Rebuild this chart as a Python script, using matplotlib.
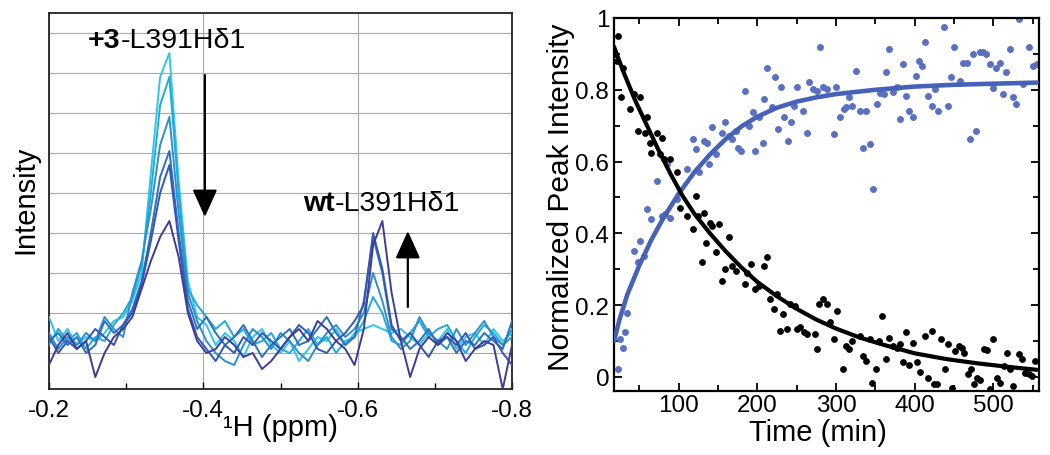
import numpy as np
import matplotlib
matplotlib.use('Agg')
import matplotlib.pyplot as plt
from matplotlib.ticker import MultipleLocator, FuncFormatter

plt.rcParams['font.family'] = ['Liberation Sans', 'DejaVu Sans']
plt.rcParams['axes.unicode_minus'] = False

# ---------------- Left panel: 1H spectra ----------------
ppm = np.linspace(-0.2, -0.8, 51)

spec1 = [0.9, 0.3, 0.6, 0.2, 0.4, 0.3, 0.5, 0.8, 0.9, 1.3, 2.0, 4.5, 6.9, 7.5, 4.3, 1.8, 0.9, 0.7, 0.2, 0.5,
         0.3, -0.1, 0.4, 0.6, 0.2, 0.0, 0.3, -0.2, 0.1, 0.4, 0.3, 0.6, 0.2, 0.5, 0.6, 0.7, 0.6, 0.5, 0.6, 0.4,
         0.2, 0.5, 0.3, 0.6, 0.1, 0.4, 0.5, 0.2, 0.6, 0.3, 0.5]
spec2 = [0.2, 0.6, 0.3, 0.5, 0.1, 0.4, 0.3, 0.7, 1.0, 1.4, 2.2, 4.0, 6.2, 6.9, 4.0, 1.6, 1.2, 0.9, 0.6, 0.8,
         0.4, 0.6, 0.2, 0.3, 0.5, 0.1, 0.0, 0.3, 0.6, 0.2, 0.4, 0.0, 0.3, 0.4, 0.8, 1.4, 1.0, 0.3, 0.2, 0.5,
         0.8, 0.4, 0.6, 0.7, 0.3, 0.0, 0.4, 0.7, 0.5, 0.2, 0.6]
spec3 = [0.5, 0.1, 0.4, 0.2, 0.5, 0.3, 0.9, 0.6, 0.4, 1.5, 2.3, 3.6, 5.2, 5.9, 3.5, 1.5, 0.8, 0.3, 0.0, -0.2,
         -0.3, 0.2, 0.6, 0.4, 0.1, 0.5, 0.3, 0.0, -0.2, 0.2, 0.5, 0.7, 0.4, 0.6, 1.0, 2.0, 1.3, 0.4, 0.1, 0.3,
         0.9, 0.5, 0.3, 0.1, 0.6, 0.2, 0.5, 0.8, 0.4, 0.2, 0.4]
spec4 = [0.3, 0.5, 0.2, 0.4, 0.0, 0.2, 0.8, 0.5, 0.7, 1.1, 1.8, 3.0, 4.4, 5.05, 3.0, 1.3, 0.6, 0.9, 0.5, 0.2,
         0.4, 0.7, 0.3, -0.1, 0.2, 0.4, 0.6, 0.2, 0.3, 0.6, 0.9, 0.5, 0.2, 0.4, 1.3, 2.9, 2.0, 0.6, 0.4, 0.1,
         0.3, 0.6, 0.2, 0.4, 0.0, 0.3, 0.2, 0.5, 0.3, 0.1, 0.8]
spec5 = [0.4, 0.0, 0.3, 0.1, 0.3, 0.6, 0.4, 0.2, 0.7, 1.0, 1.7, 2.8, 4.0, 4.7, 2.8, 1.1, 0.4, 0.1, -0.2, 0.2,
         0.0, 0.4, 0.2, 0.5, 0.3, 0.1, 0.4, 0.7, 0.5, 0.1, 0.0, 0.3, 0.5, 0.8, 1.2, 3.0, 2.1, 0.7, 0.3, 0.5,
         0.2, -0.1, 0.3, 0.4, 0.2, 0.5, 0.1, 0.2, 0.4, 0.0, -0.3]
spec6 = [-0.3, 0.2, 0.5, 0.1, 0.3, -0.6, 0.0, 0.4, 0.6, 0.9, 1.6, 2.3, 2.9, 3.3, 2.4, 1.0, 0.3, 0.0, 0.1, 0.4,
         0.2, -0.1, 0.0, -0.4, -0.2, 0.1, 0.4, 0.6, 0.3, 0.8, 0.6, 0.3, 0.1, -0.3, 0.6, 2.7, 3.3, 1.5, 0.3, -0.6,
         0.1, 0.4, 0.2, 0.5, 0.3, -0.2, 0.1, 0.3, 0.2, -0.9, 0.2]
spectra = [spec1, spec2, spec3, spec4, spec5, spec6]
spec_colors = ['#2cc6ee', '#1eaadf', '#2b90cf', '#2c70c0', '#3556b2', '#3e3c98']

ppm_ticks = [-0.2, -0.4, -0.6, -0.8]
ppm_ticklabels = ['-0.2', '-0.4', '-0.6', '-0.8']

# ---------------- Right panel: kinetics ----------------
black_t = [22.5, 19.6, 21.7, 30, 27, 38.6, 43, 51, 48, 60, 58, 64, 64.5, 72.5, 79, 77, 82, 89, 98, 102,
           111, 122, 119, 125, 132, 130, 135, 140, 142, 151, 147, 155, 159, 164, 168, 173, 185, 187, 192, 197,
           202, 208, 213, 216, 221, 225, 229, 233, 238, 242, 248, 250, 254, 259, 263, 273, 276, 279, 283, 288,
           292, 297, 301, 309, 313, 317, 321, 331, 335, 338, 343, 346, 351, 355, 359, 364, 368, 373, 377, 381,
           385, 389, 393, 398, 403, 407, 413, 417, 422, 425, 429, 433, 439, 443, 447, 451, 456, 460, 463, 468,
           471, 475, 479, 483, 488, 492, 496, 500, 504, 509, 513, 517, 521, 525, 532, 536, 540, 545, 549, 553]
black_v = [0.95, 0.90, 0.88, 0.862, 0.78, 0.746, 0.788, 0.78, 0.686, 0.723, 0.681, 0.653, 0.625, 0.681, 0.667,
           0.62, 0.607, 0.607, 0.57, 0.472, 0.449, 0.505, 0.412, 0.449, 0.458, 0.319, 0.374, 0.43, 0.421, 0.426,
           0.347, 0.268, 0.30, 0.389, 0.31, 0.296, 0.258, 0.291, 0.314, 0.244, 0.254, 0.31, 0.333, 0.217, 0.189,
           0.23, 0.128, 0.175, 0.133, 0.203, 0.198, 0.133, 0.138, 0.124, 0.119, 0.119, 0.079, 0.204, 0.217, 0.203,
           0.153, 0.107, 0.184, 0.023, 0.086, 0.077, 0.10, 0.114, 0.059, 0.045, 0.105, -0.016, 0.021, 0.10, 0.17,
           0.051, 0.11, 0.086, 0.082, 0.091, 0.042, 0.124, 0.033, 0.096, 0.042, 0.014, 0.114, -0.002, 0.128, -0.02,
           -0.02, 0.105, 0.021, 0.091, -0.03, 0.072, 0.086, 0.082, 0.068, 0.007, 0.021, -0.02, -0.002, -0.007, 0.077,
           0.075, -0.033, 0.107, -0.002, -0.016, 0.031, 0.068, 0.023, -0.025, 0.063, 0.049, 0.012, 0.007, 0.003, 0.045]

blue_t = [22.5, 26, 30, 32, 35, 43, 49, 51, 56, 60, 65, 72.5, 79, 83, 89, 85, 98, 111, 118, 122,
          126, 132, 136, 139, 143, 147, 155, 159, 164, 168, 173, 176, 179, 185, 189, 194, 197, 202, 207, 209,
          213, 219, 222, 226, 230, 234, 239, 243, 247, 250, 258, 263, 266, 271, 276, 280, 284, 288, 297, 300,
          305, 310, 313, 317, 321, 326, 330, 335, 338, 343, 347, 352, 356, 361, 364, 368, 373, 377, 381, 385,
          389, 393, 398, 402, 405, 409, 413, 417, 422, 426, 430, 437, 442, 446, 450, 458, 462, 466, 470, 474,
          478, 483, 487, 491, 496, 500, 503, 508, 512, 516, 521, 525, 529, 533, 538, 545, 550, 555]
blue_v = [0.021, 0.105, 0.082, 0.124, 0.179, 0.351, 0.319, 0.379, 0.337, 0.467, 0.44, 0.546, 0.449, 0.454, 0.444,
          0.593, 0.495, 0.579, 0.663, 0.635, 0.57, 0.658, 0.653, 0.593, 0.695, 0.621, 0.681, 0.709, 0.672, 0.663,
          0.686, 0.639, 0.63, 0.797, 0.70, 0.737, 0.63, 0.723, 0.653, 0.774, 0.862, 0.751, 0.835, 0.69, 0.807,
          0.723, 0.658, 0.709, 0.756, 0.807, 0.742, 0.681, 0.821, 0.802, 0.797, 0.918, 0.807, 0.802, 0.677, 0.807,
          0.723, 0.746, 0.751, 0.779, 0.756, 0.853, 0.742, 0.639, 0.742, 0.649, 0.523, 0.76, 0.791, 0.788, 0.849,
          0.914, 0.793, 0.809, 0.718, 0.872, 0.783, 0.742, 0.723, 0.839, 0.881, 0.867, 0.932, 0.783, 0.756, 0.802,
          0.742, 0.974, 0.756, 0.835, 0.918, 0.825, 0.876, 0.876, 0.663, 0.90, 0.686, 0.904, 0.904, 0.90, 0.872,
          0.804, 0.862, 0.876, 0.788, 0.849, 0.914, 0.779, 0.76, 0.997, 0.816, 0.918, 0.867, 0.872]

decay_fit_t = [18, 30, 45, 60, 75, 90, 105, 120, 140, 160, 180, 200, 225, 250, 275, 300, 330, 360, 400, 440, 480, 520, 555]
decay_fit_v = [0.92, 0.85, 0.77, 0.70, 0.63, 0.565, 0.505, 0.455, 0.40, 0.35, 0.305, 0.265, 0.225, 0.19, 0.16,
               0.135, 0.11, 0.09, 0.066, 0.05, 0.038, 0.028, 0.02]
rise_fit_t = [18, 25, 35, 50, 65, 80, 100, 120, 140, 160, 180, 200, 225, 250, 275, 300, 350, 400, 450, 500, 555]
rise_fit_v = [0.10, 0.16, 0.23, 0.31, 0.38, 0.44, 0.51, 0.57, 0.62, 0.663, 0.698, 0.725, 0.75, 0.767, 0.779, 0.788,
              0.80, 0.809, 0.814, 0.817, 0.82]

W, H = 1050, 456
fig = plt.figure(figsize=(W / 100, H / 100), dpi=100)

def px_axes(l, t, r, b):
    return fig.add_axes([l / W, 1 - b / H, (r - l) / W, (b - t) / H])

# ---- left ----
ax1 = px_axes(49, 14, 512, 390)
for s, c in zip(spectra, spec_colors):
    ax1.plot(ppm, s, color=c, lw=1.4, zorder=3)
ax1.set_xlim(-0.2, -0.8)
ax1.set_ylim(-0.9, 8.5)
ax1.set_xticks(ppm_ticks)
ax1.set_xticklabels(ppm_ticklabels)
ax1.xaxis.set_minor_locator(MultipleLocator(0.1))
ax1.set_yticks(range(9))
ax1.set_yticklabels([])
ax1.tick_params(axis='y', length=0)
ax1.tick_params(axis='x', which='both', direction='in', labelsize=17.5, pad=7)
ax1.tick_params(axis='x', which='major', length=5, width=1)
ax1.tick_params(axis='x', which='minor', length=4, width=1)
ax1.grid(True, color='#a8a8a8', lw=0.8, zorder=0)
for sp in ax1.spines.values():
    sp.set_linewidth(1.3)
    sp.set_color('#222222')

t1 = ax1.text((88 - 49) / 463, (390 - 48) / 376, '+3', transform=ax1.transAxes,
              fontsize=20.5, fontweight='bold', va='baseline', ha='left')
ax1.annotate('-L391H\u03b41', xy=(1, 0), xycoords=t1, va='bottom', ha='left', fontsize=20.5)
t2 = ax1.text((303 - 49) / 463, (390 - 211) / 376, 'wt', transform=ax1.transAxes,
              fontsize=20.5, fontweight='bold', va='baseline', ha='left')
ax1.annotate('-L391H\u03b41', xy=(1, 0), xycoords=t2, va='bottom', ha='left', fontsize=20.5)

arrow_kw = dict(arrowstyle='-|>,head_length=1.0,head_width=0.45', color='black', lw=1.6,
                mutation_scale=17, shrinkA=0, shrinkB=0)
ax1.annotate('', xy=(-0.402, 3.4), xytext=(-0.402, 6.95), arrowprops=arrow_kw)
ax1.annotate('', xy=(-0.665, 3.05), xytext=(-0.665, 1.15), arrowprops=arrow_kw)

fig.text(25 / W, 1 - 200 / H, 'Intensity', rotation=90, ha='center', va='center', fontsize=21)
fig.text(280 / W, 1 - 436 / H, '\u00b9H (ppm)', ha='center', va='baseline', fontsize=21)

# ---- right ----
ax2 = px_axes(614, 19, 1039, 392)
ax2.scatter(blue_t, blue_v, s=25, color='#5a70c0', zorder=2, linewidths=0)
ax2.scatter(black_t, black_v, s=24, color='black', zorder=3, linewidths=0)
ax2.plot(rise_fit_t, rise_fit_v, color='#4661b8', lw=3.3, zorder=4, solid_capstyle='round')
ax2.plot(decay_fit_t, decay_fit_v, color='black', lw=3.0, zorder=5, solid_capstyle='round')
ax2.set_xlim(18, 558)
ax2.set_ylim(-0.039, 1.0)
ax2.xaxis.set_major_locator(MultipleLocator(100))
ax2.xaxis.set_minor_locator(MultipleLocator(50))
ax2.yaxis.set_major_locator(MultipleLocator(0.2))
ax2.yaxis.set_minor_locator(MultipleLocator(0.1))
ax2.yaxis.set_major_formatter(FuncFormatter(lambda v, p: '%g' % round(v, 2)))
ax2.tick_params(which='both', direction='in', top=True, right=True, labelsize=17.5, width=1.3)
ax2.tick_params(axis='x', pad=2)
ax2.tick_params(which='major', length=6)
ax2.tick_params(which='minor', length=4)
for sp in ax2.spines.values():
    sp.set_linewidth(1.6)

fig.text(561 / W, 1 - 197 / H, 'Normalized Peak Intensity', rotation=90, ha='center', va='center', fontsize=21.5)
fig.text(818 / W, 1 - 441 / H, 'Time (min)', ha='center', va='baseline', fontsize=21)

fig.savefig('out.png', dpi=100)
